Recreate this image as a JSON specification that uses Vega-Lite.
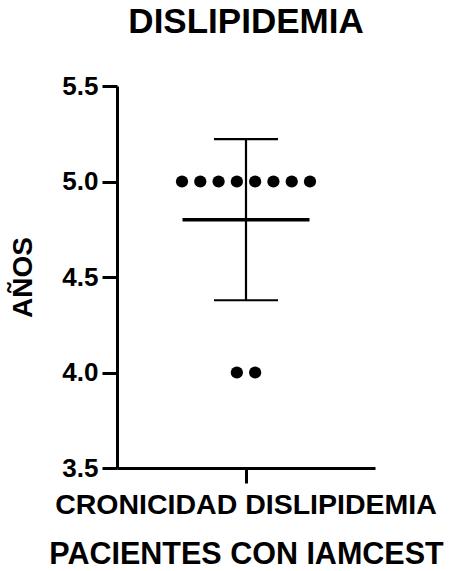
{
  "$schema": "https://vega.github.io/schema/vega-lite/v6.json",
  "autosize": "none",
  "padding": {"left": 117, "top": 86, "right": 76, "bottom": 103},
  "width": 258,
  "height": 382,
  "background": "white",
  "config": {
    "view": {"stroke": null},
    "font": "Liberation Sans",
    "axis": {
      "grid": false,
      "domainColor": "black",
      "domainWidth": 3,
      "tickColor": "black",
      "tickWidth": 3,
      "tickSize": 15,
      "labelColor": "black",
      "labelFont": "Liberation Sans",
      "labelFontWeight": "bold",
      "titleColor": "black",
      "titleFont": "Liberation Sans",
      "titleFontWeight": "bold"
    }
  },
  "title": {
    "text": "DISLIPIDEMIA",
    "font": "Liberation Sans",
    "fontSize": 35,
    "fontWeight": "bold",
    "color": "black",
    "anchor": "middle",
    "frame": "group",
    "baseline": "alphabetic",
    "offset": 5
  },
  "data": {
    "values": [
      {"grupo": "CRONICIDAD DISLIPIDEMIA", "valor": 5.0, "punto": 1},
      {"grupo": "CRONICIDAD DISLIPIDEMIA", "valor": 5.0, "punto": 2},
      {"grupo": "CRONICIDAD DISLIPIDEMIA", "valor": 5.0, "punto": 3},
      {"grupo": "CRONICIDAD DISLIPIDEMIA", "valor": 5.0, "punto": 4},
      {"grupo": "CRONICIDAD DISLIPIDEMIA", "valor": 5.0, "punto": 5},
      {"grupo": "CRONICIDAD DISLIPIDEMIA", "valor": 5.0, "punto": 6},
      {"grupo": "CRONICIDAD DISLIPIDEMIA", "valor": 5.0, "punto": 7},
      {"grupo": "CRONICIDAD DISLIPIDEMIA", "valor": 5.0, "punto": 8},
      {"grupo": "CRONICIDAD DISLIPIDEMIA", "valor": 4.0, "punto": 4},
      {"grupo": "CRONICIDAD DISLIPIDEMIA", "valor": 4.0, "punto": 5}
    ]
  },
  "encoding": {
    "x": {
      "field": "grupo",
      "type": "nominal",
      "scale": {"paddingInner": 0, "paddingOuter": 0.508},
      "axis": {
        "title": "PACIENTES CON IAMCEST",
        "titleFontSize": 30.5,
        "titlePadding": 21,
        "labelFontSize": 28.5,
        "labelAngle": 0,
        "labelPadding": 7,
        "labelLimit": 600
      }
    }
  },
  "layer": [
    {
      "mark": {"type": "errorbar", "extent": "stdev", "color": "black", "opacity": 1, "ticks": {"size": 64, "thickness": 2.2, "color": "black", "opacity": 1}, "rule": {"strokeWidth": 2.2, "color": "black", "opacity": 1}},
      "encoding": {
        "y": {
          "field": "valor",
          "type": "quantitative",
          "scale": {"domain": [3.5, 5.5], "nice": false, "zero": false},
          "axis": {
            "title": "AÑOS",
            "titleFontSize": 28,
            "titlePadding": 24,
            "labelFontSize": 26,
            "labelPadding": 4,
            "values": [3.5, 4.0, 4.5, 5.0, 5.5],
            "format": ".1f"
          }
        }
      }
    },
    {
      "mark": {"type": "tick", "size": 127, "thickness": 3.5, "color": "black", "opacity": 1},
      "encoding": {
        "y": {"aggregate": "mean", "field": "valor", "type": "quantitative"}
      }
    },
    {
      "mark": {"type": "circle", "size": 150, "color": "black", "opacity": 1},
      "encoding": {
        "y": {"field": "valor", "type": "quantitative"},
        "xOffset": {
          "field": "punto",
          "type": "nominal",
          "scale": {"domain": [1, 2, 3, 4, 5, 6, 7, 8], "paddingInner": 0, "paddingOuter": 0}
        }
      }
    }
  ]
}
